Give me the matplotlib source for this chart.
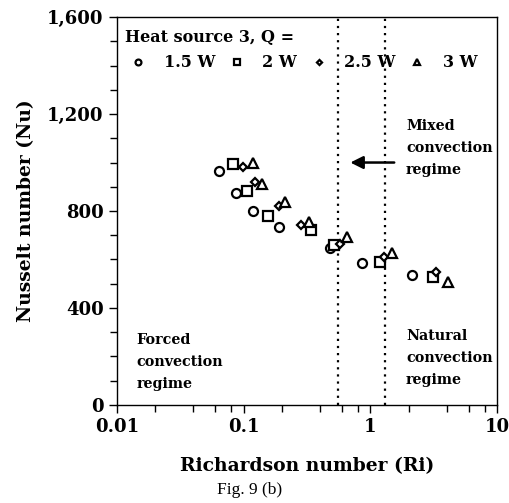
import numpy as np
import matplotlib
matplotlib.use("Agg")
import matplotlib.pyplot as plt
from matplotlib.ticker import FixedLocator, FuncFormatter, LogLocator, NullFormatter

# Nu vs Ri for heat source 3 at four heat inputs
ri_15 = [0.0645, 0.0873, 0.118, 0.191, 0.479, 0.855, 2.13]
nu_15 = [965, 873, 801, 735, 646, 584, 536]
ri_20 = [0.082, 0.1065, 0.157, 0.343, 0.517, 1.18, 3.10]
nu_20 = [993, 884, 781, 722, 660, 588, 529]
ri_25 = [0.0996, 0.124, 0.191, 0.283, 0.577, 1.28, 3.26]
nu_25 = [983, 918, 822, 744, 664, 612, 550]
ri_30 = [0.118, 0.14, 0.213, 0.325, 0.659, 1.49, 4.07]
nu_30 = [997, 910, 836, 756, 694, 626, 509]

labels = ["1.5 W", "2 W", "2.5 W", "3 W"]
ri_bounds = [0.55, 1.3]

bold = dict(family="DejaVu Serif", weight="bold")

fig = plt.figure(figsize=(5.1, 5.03), dpi=100)
ax = fig.add_axes([0.229, 0.195, 0.746, 0.771])

mk = dict(linestyle="none", mfc="white", mec="black", mew=1.6)
h1, = ax.plot(ri_15, nu_15, marker="o", ms=6.5, label=labels[0], **mk)
h2, = ax.plot(ri_20, nu_20, marker="s", ms=6.5, label=labels[1], **mk)
h3, = ax.plot(ri_25, nu_25, marker="D", ms=4, label=labels[2], **mk)
h4, = ax.plot(ri_30, nu_30, marker="^", ms=6.5, label=labels[3], **mk)

for xb in ri_bounds:
    ax.axvline(xb, color="black", linestyle=(0, (1, 2.2)), linewidth=1.6, zorder=1)

ax.annotate("", xy=(0.66, 1000), xytext=(1.62, 1000),
            arrowprops=dict(arrowstyle="-|>", color="black", lw=1.8,
                            mutation_scale=19))

txt = dict(fontsize=10.3, linespacing=1.7, va="center", ha="left", **bold)
ax.text(1.91, 1060, "Mixed\nconvection\nregime", **txt)
ax.text(0.01436, 177, "Forced\nconvection\nregime", **txt)
ax.text(1.91, 194, "Natural\nconvection\nregime", **txt)

ax.set_xscale("log")
ax.set_xlim(0.01, 10)
ax.set_ylim(0, 1600)
ax.xaxis.set_major_locator(FixedLocator([0.01, 0.1, 1, 10]))
ax.xaxis.set_major_formatter(FuncFormatter(lambda v, p: f"{v:g}"))
ax.xaxis.set_minor_locator(LogLocator(base=10, subs=[2, 4, 6, 8]))
ax.xaxis.set_minor_formatter(NullFormatter())
ax.yaxis.set_major_locator(FixedLocator([0, 400, 800, 1200, 1600]))
ax.yaxis.set_minor_locator(FixedLocator(np.arange(0, 1601, 100)))
ax.yaxis.set_major_formatter(FuncFormatter(lambda v, p: f"{int(v):,}"))

ax.tick_params(which="both", direction="out", width=1.0, color="black")
ax.tick_params(which="major", length=6, labelsize=13)
ax.tick_params(which="minor", length=5)
for lab in ax.get_xticklabels() + ax.get_yticklabels():
    lab.set_fontfamily("DejaVu Serif")
    lab.set_fontweight("bold")
for s in ax.spines.values():
    s.set_linewidth(1.0)

ax.set_xlabel("Richardson number (Ri)", fontsize=13.5, labelpad=15, **bold)
ax.set_ylabel("Nusselt number (Nu)", fontsize=13.5, labelpad=9, **bold)

leg = ax.legend(handles=[h1, h2, h3, h4], ncol=4, title="Heat source 3, Q =",
                loc="upper left", bbox_to_anchor=(-0.015, 1.006), frameon=False,
                markerscale=0.65, handlelength=1.6, handletextpad=0.8,
                columnspacing=0.55, labelspacing=0.5, alignment="left",
                prop=dict(family="DejaVu Serif", weight="bold", size=11.5),
                title_fontproperties=dict(family="DejaVu Serif", weight="bold",
                                          size=11.5))

fig.text(0.49, 0.026, "Fig. 9 (b)", ha="center", va="center",
         fontsize=12.5, family="Liberation Serif")

fig.savefig("out.png", dpi=100)
